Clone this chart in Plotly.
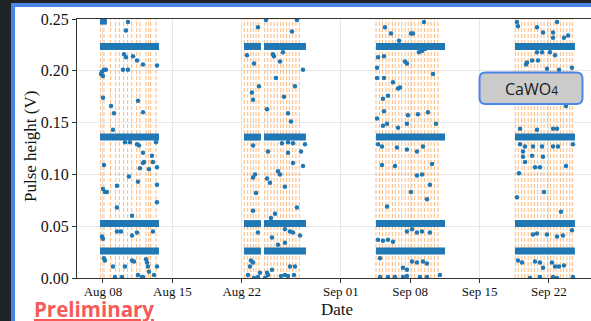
import pandas as pd
import plotly.graph_objects as go

BASE = pd.Timestamp("2023-08-01")  # day 0 of the time axis

# ---------------- data (time in days since 2023-08-01, values in V) ----------------
band_levels = [0.026, 0.0525, 0.136, 0.2235]
block_start = [6.70, 21.23, 23.25, 34.55, 48.57]
block_end = [12.65, 22.94, 27.48, 41.51, 54.62]
top_band_level = 0.248
top_band_start = 6.70
top_band_end = 7.40

vline_days = [
    6.77, 7.10, 7.77, 8.28, 8.64, 9.09, 9.49, 9.90, 10.40, 10.73, 11.34, 11.61, 11.81, 12.35,
    21.26, 21.60, 21.91, 22.17, 22.44, 22.72, 23.32, 23.62, 23.95, 24.26, 24.59, 24.93,
    25.19, 25.53, 25.80, 26.14, 26.47, 26.81,
    34.55, 34.90, 35.20, 35.55, 35.85, 36.20, 36.50, 36.85, 37.15, 37.50, 37.80, 38.15,
    38.45, 38.80, 39.10, 39.45, 39.80, 40.10, 40.45, 40.80,
    48.60, 48.90, 49.25, 49.55, 49.90, 50.20, 50.55, 50.85, 51.20, 51.50, 51.85, 52.15,
    52.50, 52.80, 53.15, 53.45, 53.80, 54.10, 54.35,
]

outlier_days = [
    # run 1
    9.52, 9.32, 9.12, 9.32, 10.03, 10.43, 11.04, 12.45, 6.80, 6.90, 7.10, 7.30, 7.00,
    9.02, 9.52, 7.00, 7.81, 8.11, 10.53, 11.04, 8.01, 9.22, 9.72, 10.43, 10.63, 11.04,
    11.94, 12.35, 7.10, 7.00, 7.20, 7.40, 8.41, 8.41, 8.82, 9.93, 9.62, 10.53, 10.73,
    11.04, 11.14, 11.64, 12.04, 12.45, 12.45, 12.45, 6.90, 7.00, 7.20, 7.10, 8.01, 8.21,
    8.41, 9.22, 8.92, 9.93, 10.13, 10.53, 10.94, 11.04, 11.54, 11.64, 12.15, 12.45,
    11.34, 11.44, 9.93, 10.43, 12.04,
    # run 2
    23.45, 26.57, 22.64, 26.07, 21.53, 24.15, 24.25, 25.16, 24.86, 22.24, 27.18, 24.46,
    22.74, 22.03, 22.14, 26.37, 25.26, 23.55, 25.67, 25.97, 22.14, 25.06, 25.67, 26.17,
    27.38, 23.65, 25.67, 26.98, 22.34, 22.14, 22.44, 22.14, 22.64, 23.55, 23.85, 24.66,
    24.86, 25.36, 24.36, 23.95, 26.57, 26.17, 27.18, 24.05, 25.36, 25.87, 26.17, 25.36,
    26.88, 21.93, 22.14, 21.83, 22.84, 21.63, 22.24, 22.64, 24.05, 23.65, 23.55, 25.87,
    26.37, 24.96, 25.36, 25.67, 26.27, 23.35, 24.66,
    # run 3
    35.45, 36.06, 36.87, 34.75, 35.35, 34.65, 34.65, 35.35, 36.26, 35.76, 36.77, 35.25,
    35.35, 34.65, 35.25, 35.66, 36.77, 34.75, 35.15, 36.66, 39.39, 38.08, 38.28, 38.88,
    39.19, 39.49, 37.47, 37.67, 40.30, 36.97, 39.79, 37.77, 38.78, 37.67, 40.60, 39.29,
    38.68, 37.67, 35.15, 36.46, 35.66, 34.75, 35.25, 35.76, 36.26, 34.95, 34.95, 35.76,
    36.46, 40.20, 38.68, 39.19, 39.99, 38.08, 39.69, 37.67, 38.18, 38.68, 39.19, 39.99,
    37.27, 37.67, 38.18, 38.68, 39.29, 39.69, 37.27, 37.67, 38.99, 39.69, 41.00,
    # run 4
    48.77, 52.81, 48.87, 50.79, 51.40, 52.41, 53.92, 53.51, 52.41, 49.78, 49.68, 50.29,
    50.89, 50.79, 51.30, 52.10, 52.61, 51.80, 53.01, 54.32, 53.72, 49.08, 50.79, 52.41,
    52.81, 49.08, 49.58, 49.38, 50.39, 51.30, 49.38, 50.29, 51.40, 52.41, 52.91, 54.42,
    49.58, 50.59, 51.09, 53.72, 48.97, 51.50, 48.77, 53.21, 50.39, 50.79, 51.80, 52.81,
    53.41, 54.32, 48.87, 49.28, 50.59, 51.09, 52.30, 52.61, 53.01, 53.51, 50.08, 51.09,
    52.41, 52.81, 54.42, 51.40,
]
outlier_v = [
    # run 1
    0.247, 0.239, 0.216, 0.213, 0.214, 0.210, 0.206, 0.205, 0.197, 0.199, 0.201, 0.201, 0.195,
    0.201, 0.201, 0.174, 0.166, 0.159, 0.171, 0.160, 0.143, 0.131, 0.131, 0.129, 0.128, 0.121,
    0.118, 0.131, 0.109, 0.086, 0.083, 0.083, 0.089, 0.068, 0.045, 0.060, 0.098, 0.093, 0.106,
    0.111, 0.112, 0.105, 0.112, 0.107, 0.090, 0.073, 0.040, 0.038, 0.017, 0.019, 0.011, 0.001,
    0.045, 0.011, 0.001, 0.017, 0.016, 0.003, 0.001, 0.001, 0.011, 0.006, 0.003, 0.011,
    0.018, 0.015, 0.041, 0.044, 0.045,
    # run 2
    0.249, 0.249, 0.242, 0.238, 0.215, 0.216, 0.214, 0.218, 0.209, 0.207, 0.201, 0.193,
    0.185, 0.179, 0.172, 0.185, 0.175, 0.163, 0.159, 0.151, 0.128, 0.130, 0.131, 0.130,
    0.129, 0.122, 0.121, 0.122, 0.100, 0.097, 0.082, 0.065, 0.044, 0.096, 0.092, 0.103,
    0.100, 0.088, 0.062, 0.058, 0.068, 0.111, 0.108, 0.039, 0.047, 0.045, 0.044, 0.034,
    0.041, 0.017, 0.015, 0.011, 0.005, 0.003, 0.000, 0.001, 0.008, 0.003, 0.005, 0.011,
    0.011, 0.002, 0.003, 0.002, 0.003, 0.000, 0.032,
    # run 3
    0.242, 0.236, 0.229, 0.213, 0.214, 0.203, 0.193, 0.193, 0.189, 0.176, 0.183, 0.173,
    0.161, 0.154, 0.147, 0.149, 0.145, 0.129, 0.127, 0.126, 0.247, 0.236, 0.236, 0.218,
    0.219, 0.221, 0.209, 0.207, 0.197, 0.184, 0.160, 0.157, 0.158, 0.149, 0.149, 0.127,
    0.122, 0.124, 0.109, 0.108, 0.069, 0.037, 0.036, 0.037, 0.035, 0.019, 0.001, 0.001,
    0.001, 0.110, 0.099, 0.100, 0.090, 0.083, 0.076, 0.045, 0.047, 0.044, 0.045, 0.044,
    0.010, 0.008, 0.016, 0.015, 0.016, 0.014, 0.001, 0.002, 0.001, 0.001, 0.003,
    # run 4
    0.247, 0.247, 0.243, 0.242, 0.237, 0.237, 0.234, 0.232, 0.232, 0.208, 0.206, 0.210,
    0.210, 0.218, 0.218, 0.218, 0.215, 0.202, 0.201, 0.203, 0.166, 0.144, 0.143, 0.144,
    0.144, 0.129, 0.127, 0.122, 0.127, 0.127, 0.117, 0.118, 0.117, 0.127, 0.127, 0.129,
    0.112, 0.107, 0.107, 0.108, 0.101, 0.083, 0.078, 0.064, 0.042, 0.043, 0.042, 0.040,
    0.041, 0.046, 0.017, 0.015, 0.016, 0.015, 0.015, 0.011, 0.011, 0.012, 0.000, 0.001,
    0.001, 0.000, 0.001, 0.010,
]

x_tick_days = [7, 14, 21, 31, 38, 45, 52]
x_tick_text = ["Aug 08", "Aug 15", "Aug 22", "Sep 01", "Sep 08", "Sep 15", "Sep 22"]
y_tick_vals = [0.00, 0.05, 0.10, 0.15, 0.20, 0.25]
y_tick_text = ["0.00", "0.05", "0.10", "0.15", "0.20", "0.25"]
x_range_days = [4.38, 56.24]
y_range = [0.0, 0.25]


def to_dt(d):
    return BASE + pd.Timedelta(days=d)


# ---------------- layout geometry ----------------
W_FIG, H_FIG = 591, 321
L, T, R, B = 77, 19, 0, 43
PW, PH = W_FIG - L - R, H_FIG - T - B


def px(x):
    return (x - L) / PW


def py(y):
    return (T + PH - y) / PH


BLUE = "#1f77b4"
SERIF = "Liberation Serif"

fig = go.Figure()

# vertical dashed markers
vx, vy = [], []
for d in vline_days:
    vx += [to_dt(d), to_dt(d), None]
    vy += [y_range[0], y_range[1], None]
fig.add_trace(go.Scatter(x=vx, y=vy, mode="lines",
                         line=dict(color="rgba(255,127,14,0.55)", width=1, dash="4px,2px"),
                         hoverinfo="skip", showlegend=False))

# dense pulse bands
for lvl in band_levels:
    bx, by = [], []
    for s, e in zip(block_start, block_end):
        bx += [to_dt(s), to_dt(e), None]
        by += [lvl, lvl, None]
    fig.add_trace(go.Scatter(x=bx, y=by, mode="lines",
                             line=dict(color=BLUE, width=7), showlegend=False))
fig.add_trace(go.Scatter(x=[to_dt(top_band_start), to_dt(top_band_end)],
                         y=[top_band_level, top_band_level], mode="lines",
                         line=dict(color=BLUE, width=7), showlegend=False))

# scattered pulses
fig.add_trace(go.Scatter(x=[to_dt(d) for d in outlier_days], y=outlier_v, mode="markers",
                         marker=dict(color=BLUE, size=4.5, line=dict(width=0)),
                         showlegend=False))

# ---------------- shapes ----------------
shapes = [
    dict(type="rect", xref="paper", yref="paper", layer="below",
         x0=px(13), x1=px(800), y0=py(500), y1=py(5),
         fillcolor="white", line=dict(color="#4a86e8", width=4)),
]
bx0, bx1, by_top, by_bot = px(479.5), px(582.5), py(72.5), py(104)
rx, ry = 6 / PW, 6 / PH
path = (f"M {bx0+rx},{by_top} L {bx1-rx},{by_top} Q {bx1},{by_top} {bx1},{by_top-ry} "
        f"L {bx1},{by_bot+ry} Q {bx1},{by_bot} {bx1-rx},{by_bot} "
        f"L {bx0+rx},{by_bot} Q {bx0},{by_bot} {bx0},{by_bot+ry} "
        f"L {bx0},{by_top-ry} Q {bx0},{by_top} {bx0+rx},{by_top} Z")
shapes.append(dict(type="path", xref="paper", yref="paper", path=path, layer="above",
                   fillcolor="#cbcbcb", line=dict(color="#4a86e8", width=2)))

annotations = [
    dict(text="CaWO<span style='font-size:12px'>4</span>", xref="paper", yref="paper",
         x=px(531), y=py(88.5),
         showarrow=False, xanchor="center", yanchor="middle",
         font=dict(family="Open Sans", size=16, color="#1a1a1a")),
    dict(text="<b>Preliminary</b>", xref="paper", yref="paper", x=px(32), y=py(308.5),
         showarrow=False, xanchor="left", yanchor="middle",
         font=dict(family="Open Sans", size=20.5, color="#f85a5a", lineposition="under")),
    dict(text="Date", xref="paper", yref="paper", x=px(337), y=py(309.5),
         showarrow=False, xanchor="center", yanchor="middle",
         font=dict(family=SERIF, size=17, color="#111")),
    dict(text="Pulse height (V)", xref="paper", yref="paper", x=px(30), y=py(147),
         showarrow=False, xanchor="center", yanchor="middle", textangle=-90,
         font=dict(family=SERIF, size=17, color="#111")),
]

fig.update_layout(
    width=W_FIG, height=H_FIG,
    margin=dict(l=L, r=R, t=T, b=B, pad=0, autoexpand=False),
    paper_bgcolor="#1f2427", plot_bgcolor="white",
    shapes=shapes, annotations=annotations,
    showlegend=False,
    xaxis=dict(type="date", range=[to_dt(x_range_days[0]), to_dt(x_range_days[1])],
               tickvals=[to_dt(d) for d in x_tick_days], ticktext=x_tick_text,
               tickfont=dict(family=SERIF, size=13, color="#111"),
               showgrid=True, gridcolor="#e6e6e6", gridwidth=1,
               showline=True, linecolor="#333", linewidth=1.2, mirror=True,
               ticks="outside", ticklen=4, tickcolor="#333", automargin=False,
               ticklabelstandoff=-3, zeroline=False),
    yaxis=dict(range=y_range, tickvals=y_tick_vals, ticktext=y_tick_text,
               tickfont=dict(family=SERIF, size=16, color="#111"),
               showgrid=True, gridcolor="#e6e6e6", gridwidth=1,
               showline=True, linecolor="#333", linewidth=1.2,
               ticks="outside", ticklen=4, tickcolor="#333", automargin=False,
               zeroline=False),
)

fig.write_html("out.html")
